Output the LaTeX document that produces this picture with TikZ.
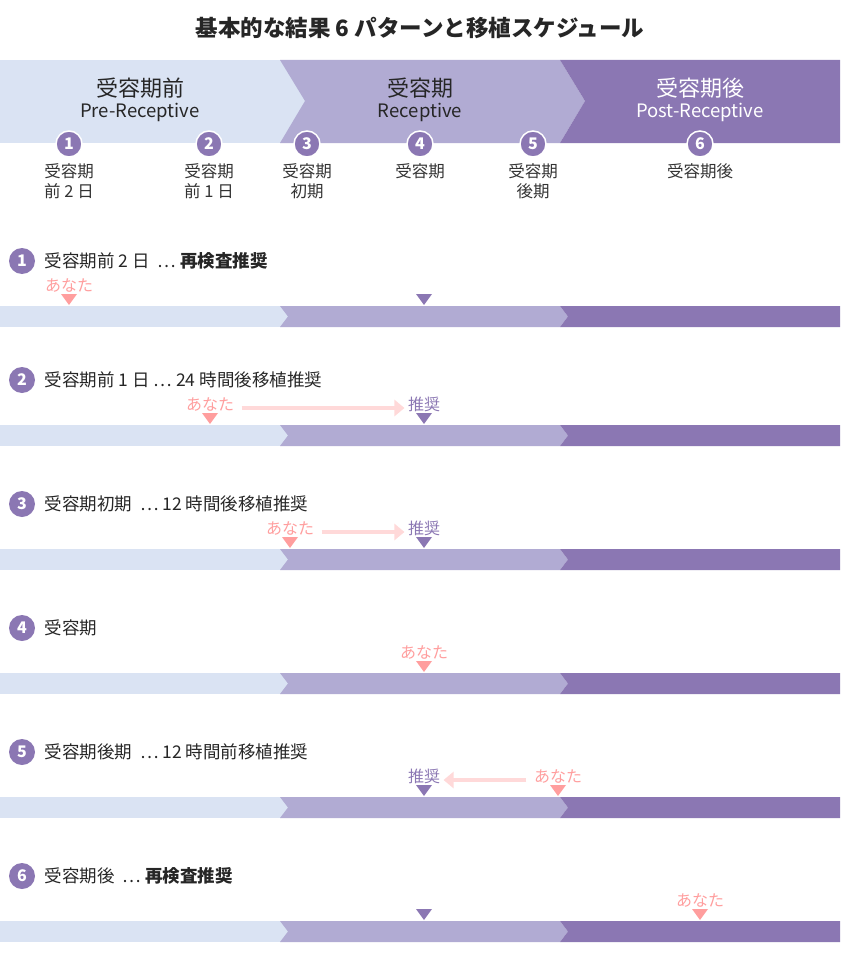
\documentclass[tikz,border=0pt]{standalone}
\usepackage{fontspec}
\setmainfont{Noto Sans CJK JP}
\usetikzlibrary{arrows.meta, positioning}
\definecolor{preC}{HTML}{DAE3F3}
\definecolor{recC}{HTML}{B1ABD3}
\definecolor{postC}{HTML}{8B77B3}
\definecolor{youC}{HTML}{FF9E9E}
\definecolor{arrC}{HTML}{FFD9D9}
\tikzset{
  numdot/.style={circle, fill=postC, text=white, font=\bfseries\fontsize{16}{16}\selectfont, inner sep=0pt, minimum size=26pt},
  hdot/.style={numdot, draw=white, line width=1.5pt},
  sublabel/.style={font=\fontsize{16.5}{20}\selectfont, align=center, anchor=north, text=black!80},
  rowtext/.style={font=\fontsize{17.5}{17.5}\selectfont, anchor=west, text=black!85},
  youtext/.style={font=\fontsize{16}{16}\selectfont, text=youC},
  rectext/.style={font=\fontsize{16}{16}\selectfont, text=postC},
  youmark/.style={fill=youC},
  recmark/.style={fill=postC},
  movearrow/.style={arrC, line width=4pt, -{Triangle[length=10pt,width=16pt]}}
}
\newcommand{\marker}[3]{% x, y (tip), style
  \fill[#3] (#1-8,#2-12) -- (#1+8,#2-12) -- (#1,#2-1) -- cycle;}
\begin{document}
\begin{tikzpicture}[x=1pt,y=-1pt]
\useasboundingbox (0,0) rectangle (840,955);

% title
\node[font=\bfseries\fontsize{22.5}{22.5}\selectfont, text=black!85] (title) at (420,28) {基本的な結果 6 パターンと移植スケジュール};

% header band
\fill[preC] (0,60) rectangle (305,143);
\fill[recC] (280,60) -- (560,60) -- (585,101) -- (560,143) -- (280,143) -- (305,101) -- cycle;
\fill[postC] (560,60) -- (840,60) -- (840,143) -- (560,143) -- (585,101) -- cycle;
\node[align=center, font=\fontsize{22}{24}\selectfont, text=black!85] (pre) at (140,100) {受容期前\\[-3pt]{\fontsize{18.5}{20}\selectfont Pre-Receptive}};
\node[align=center, font=\fontsize{22}{24}\selectfont, text=black!85] (rec) at (420,100) {受容期\\[-3pt]{\fontsize{18.5}{20}\selectfont Receptive}};
\node[align=center, font=\fontsize{22}{24}\selectfont, text=white] (post) at (700,100) {受容期後\\[-3pt]{\fontsize{18.5}{20}\selectfont Post-Receptive}};

% stage dots
\foreach \x/\n/\lab in {69/1/{受容期\\前 2 日}, 209/2/{受容期\\前 1 日}, 307/3/{受容期\\初期},
                        420/4/{受容期}, 533/5/{受容期\\後期}, 700/6/{受容期後}} {
  \node[hdot] (h\n) at (\x,144) {\n};
  \node[sublabel, below=2pt of h\n] (hl\n) {\lab};
}

% rows
\foreach \n/\y/\txt in {1/261/{受容期前 2 日 \ ⋯ \textbf{再検査推奨}},
                        2/380/{受容期前 1 日 ⋯ 24 時間後移植推奨},
                        3/504/{受容期初期 \ ⋯ 12 時間後移植推奨},
                        4/628/{受容期},
                        5/752/{受容期後期 \ ⋯ 12 時間前移植推奨},
                        6/876/{受容期後 \ ⋯ \textbf{再検査推奨}}} {
  \node[numdot] (r\n) at (22,\y) {\n};
  \node[rowtext, right=6pt of r\n] (rt\n) {\txt};
  \fill[preC] (0,\y+45) rectangle (290,\y+66);
  \fill[recC] (280,\y+45) -- (560,\y+45) -- (568,\y+55.5) -- (560,\y+66) -- (280,\y+66) -- (288,\y+55.5) -- cycle;
  \fill[postC] (560,\y+45) -- (840,\y+45) -- (840,\y+66) -- (560,\y+66) -- (568,\y+55.5) -- cycle;
}

% row 1
\marker{69}{306}{youmark} \node[youtext] (you1) at (69,285) {あなた};
\marker{424}{306}{recmark}
% row 2
\marker{210}{425}{youmark} \node[youtext] (you2) at (210,404) {あなた};
\marker{424}{425}{recmark} \node[rectext] (rec2) at (424,404) {推奨};
\draw[movearrow] (you2.east) ++(4,4) coordinate (a2) -- (a2 -| rec2.west);
% row 3
\marker{290}{549}{youmark} \node[youtext] (you3) at (290,528) {あなた};
\marker{424}{549}{recmark} \node[rectext] (rec3) at (424,528) {推奨};
\draw[movearrow] (you3.east) ++(4,4) coordinate (a3) -- (a3 -| rec3.west);
% row 4
\marker{424}{673}{youmark} \node[youtext] (you4) at (424,652) {あなた};
% row 5
\marker{424}{797}{recmark} \node[rectext] (rec5) at (424,776) {推奨};
\marker{558}{797}{youmark} \node[youtext] (you5) at (558,776) {あなた};
\draw[movearrow] (you5.west) ++(-4,4) coordinate (a5) -- (a5 -| rec5.east);
% row 6
\marker{424}{921}{recmark}
\marker{700}{921}{youmark} \node[youtext] (you6) at (700,900) {あなた};
\end{tikzpicture}
\end{document}
